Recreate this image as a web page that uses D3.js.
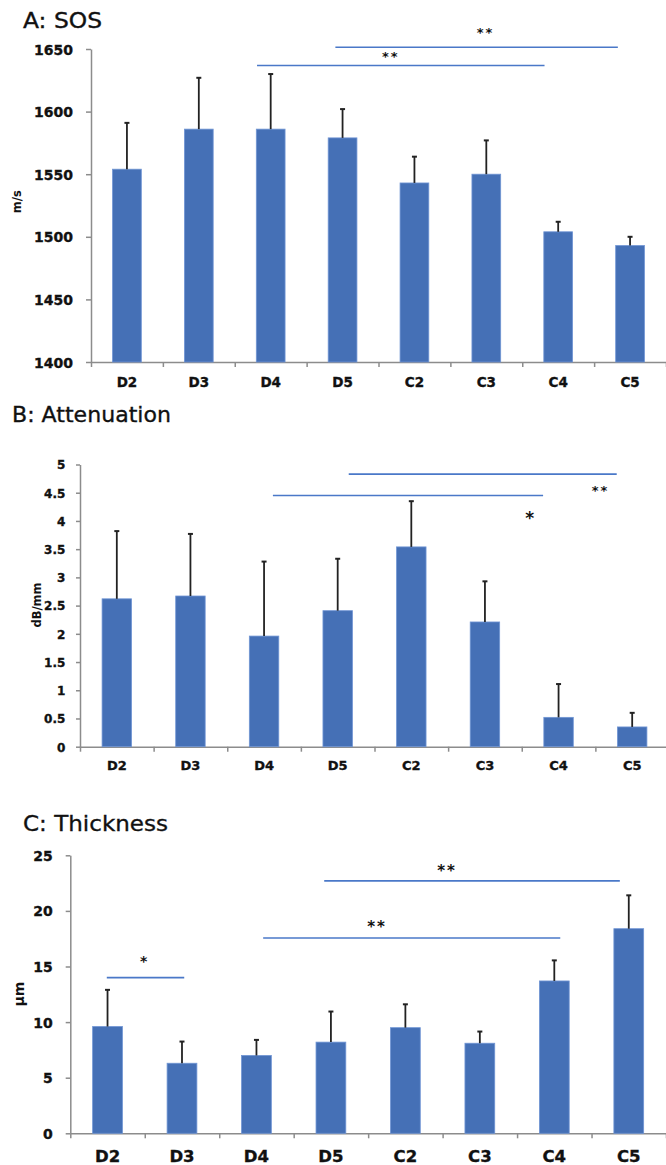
<!DOCTYPE html>
<html>
<head>
<meta charset="utf-8">
<script src="https://cdn.jsdelivr.net/npm/d3@7"></script>
<style>
    body { margin: 0; background: #fff; }
    text { font-family: "DejaVu Sans", sans-serif; }
</style>
</head>
<body>
<div id="chart"></div>
<script>
var categories = ["D2", "D3", "D4", "D5", "C2", "C3", "C4", "C5"];

// A: SOS (m/s)
var sosMean = [1554, 1586, 1586, 1579, 1543, 1550, 1504, 1493];
var sosErr = [37, 41, 44, 23, 21, 27, 8, 7];
var sosTicks = [1400, 1450, 1500, 1550, 1600, 1650];
// significance bars, from/to/sx in category-index units, y/sy in data units
var sosSig = [
    {from: 2.31, to: 6.31, y: 1636.8, star: "**", sx: 4.17, sy: 1646},
    {from: 3.40, to: 7.33, y: 1651.4, star: "**", sx: 5.49, sy: 1665}
];

// B: Attenuation (dB/mm)
var attMean = [2.62, 2.67, 1.96, 2.41, 3.54, 2.21, 0.52, 0.35];
var attErr = [1.20, 1.10, 1.32, 0.92, 0.81, 0.72, 0.59, 0.25];
var attTicks = [0, 0.5, 1, 1.5, 2, 2.5, 3, 3.5, 4, 4.5, 5];
var attSig = [
    {from: 2.62, to: 6.29, y: 4.45, star: "*", sx: 6.12, sy: 4.12},
    {from: 3.65, to: 7.29, y: 4.83, star: "**", sx: 7.07, sy: 4.58}
];

// C: Thickness (µm)
var thkMean = [9.6, 6.3, 7.0, 8.2, 9.5, 8.1, 13.7, 18.4];
var thkErr = [3.3, 1.95, 1.4, 2.75, 2.1, 1.05, 1.85, 3.0];
var thkTicks = [0, 5, 10, 15, 20, 25];
var thkSig = [
    {from: 0.49, to: 1.53, y: 14.0, star: "*", sx: 1.0, sy: 15.7},
    {from: 2.59, to: 6.58, y: 17.56, star: "**", sx: 4.12, sy: 18.8},
    {from: 3.41, to: 7.38, y: 22.7, star: "**", sx: 5.06, sy: 23.9}
];

var barColor = "#4570b6",
    sigColor = "#4a78c8",
    axisColor = "#8c8c8c";

var svg = d3.select("#chart")
    .append("svg")
    .attr("width", 666)
    .attr("height", 1165);

svg.append("rect")
    .attr("width", 666)
    .attr("height", 1165)
    .attr("fill", "#fff");

function drawPanel(p) {
    var g = svg.append("g");
    var x = d3.scaleBand()
        .domain(categories)
        .range([p.left, p.right]);
    var xi = d3.scaleLinear()
        .domain([0, categories.length])
        .range([p.left, p.right]);
    var y = d3.scaleLinear()
        .domain(p.domain)
        .range([p.bottom, p.top]);

    // title
    g.append("text")
        .attr("x", p.titleX)
        .attr("y", p.titleY)
        .attr("textLength", p.titleLen)
        .attr("lengthAdjust", "spacingAndGlyphs")
        .style("font-size", p.titleSize + "px")
        .style("fill", "#111")
        .style("stroke", "#111")
        .style("stroke-width", 0.35)
        .text(p.title);

    // y axis
    var ya = g.append("g")
        .attr("transform", "translate(" + p.left + ",0)")
        .call(d3.axisLeft(y)
            .tickValues(p.ticks)
            .tickSize(p.tickLen)
            .tickSizeOuter(0)
            .tickPadding(p.yPad)
            .tickFormat(function(d) { return String(d); }));
    ya.selectAll("text")
        .attr("dy", "0.36em")
        .style("font-size", p.tickFont + "px")
        .style("font-weight", "bold")
        .style("fill", "#111")
        .style("stroke", "#111")
        .style("stroke-width", 0.35);

    // x axis: boundary ticks + category labels
    g.append("g")
        .attr("transform", "translate(0," + p.bottom + ")")
        .call(d3.axisBottom(xi)
            .tickValues(d3.range(categories.length + 1))
            .tickSize(5)
            .tickSizeOuter(0)
            .tickFormat(""));
    var xl = g.append("g")
        .attr("transform", "translate(0," + p.bottom + ")")
        .call(d3.axisBottom(x).tickSize(0).tickPadding(p.xPad));
    xl.select(".domain").remove();
    xl.selectAll("text")
        .style("font-size", p.xFont + "px")
        .style("font-weight", "bold")
        .style("fill", "#111")
        .style("stroke", "#111")
        .style("stroke-width", 0.35);

    g.selectAll(".domain, .tick line")
        .attr("stroke", axisColor)
        .attr("stroke-width", 1.5);

    // y label
    g.append("text")
        .attr("transform", "translate(" + p.ylabX + "," + p.ylabY + ") rotate(-90)")
        .attr("text-anchor", "middle")
        .attr("dy", "0.35em")
        .style("font-size", p.ylabSize + "px")
        .style("font-weight", "bold")
        .style("fill", "#111")
        .text(p.ylab);

    // bars
    var bw = x.bandwidth() * 0.4;
    g.selectAll(".bar")
        .data(p.mean)
        .enter()
        .append("rect")
        .attr("x", function(d, i) { return x(categories[i]) + (x.bandwidth() - bw) / 2; })
        .attr("y", function(d) { return y(d); })
        .attr("width", bw)
        .attr("height", function(d) { return p.bottom - y(d); })
        .attr("fill", barColor)
        .attr("stroke", "#7095d4")
        .attr("stroke-width", 0.8);

    // error bars (upper only)
    var eb = g.selectAll(".err")
        .data(p.mean)
        .enter()
        .append("g");
    eb.append("line")
        .attr("x1", function(d, i) { return x(categories[i]) + x.bandwidth() / 2; })
        .attr("x2", function(d, i) { return x(categories[i]) + x.bandwidth() / 2; })
        .attr("y1", function(d) { return y(d); })
        .attr("y2", function(d, i) { return y(d + p.err[i]); })
        .attr("stroke", "#222")
        .attr("stroke-width", 1.8);
    eb.append("line")
        .attr("x1", function(d, i) { return x(categories[i]) + x.bandwidth() / 2 - 2.5; })
        .attr("x2", function(d, i) { return x(categories[i]) + x.bandwidth() / 2 + 2.5; })
        .attr("y1", function(d, i) { return y(d + p.err[i]); })
        .attr("y2", function(d, i) { return y(d + p.err[i]); })
        .attr("stroke", "#222")
        .attr("stroke-width", 2);

    // significance lines
    g.selectAll(".sig")
        .data(p.sig)
        .enter()
        .append("line")
        .attr("x1", function(d) { return xi(d.from); })
        .attr("x2", function(d) { return xi(d.to); })
        .attr("y1", function(d) { return y(d.y); })
        .attr("y2", function(d) { return y(d.y); })
        .attr("stroke", sigColor)
        .attr("stroke-width", 1.6);
    g.selectAll(".star")
        .data(p.sig)
        .enter()
        .append("text")
        .attr("x", function(d) { return xi(d.sx); })
        .attr("y", function(d) { return y(d.sy) + 0.55 * (d.star == "*" ? p.starBig : p.starSize); })
        .attr("text-anchor", "middle")
        .style("font-size", function(d) { return (d.star == "*" ? p.starBig : p.starSize) + "px"; })
        .style("font-weight", "bold")
        .style("letter-spacing", "2px")
        .style("fill", "#111")
        .text(function(d) { return d.star; });
}

drawPanel({
    title: "A: SOS", titleX: 23, titleY: 28, titleSize: 21, titleLen: 79,
    left: 91, right: 666, bottom: 362, top: 49, domain: [1400, 1650],
    ticks: sosTicks, tickLen: 5, yPad: 13, tickFont: 14,
    xFont: 13.5, xPad: 15,
    ylab: "m/s", ylabX: 17, ylabY: 201.7, ylabSize: 11.5,
    mean: sosMean, err: sosErr, sig: sosSig, starSize: 13, starBig: 13
});

drawPanel({
    title: "B: Attenuation", titleX: 12, titleY: 421.7, titleSize: 21.5, titleLen: 159,
    left: 80, right: 669, bottom: 746.7, top: 464.5, domain: [0, 5],
    ticks: attTicks, tickLen: 4, yPad: 10.7, tickFont: 12,
    xFont: 13, xPad: 13.6,
    ylab: "dB/mm", ylabX: 37, ylabY: 605, ylabSize: 11.5,
    mean: attMean, err: attErr, sig: attSig, starSize: 13, starBig: 17
});

drawPanel({
    title: "C: Thickness", titleX: 23, titleY: 830.7, titleSize: 22, titleLen: 145,
    left: 70.3, right: 666, bottom: 1133.3, top: 855.3, domain: [0, 25],
    ticks: thkTicks, tickLen: 4.6, yPad: 13, tickFont: 14,
    xFont: 16.5, xPad: 17.4,
    ylab: "µm", ylabX: 19.5, ylabY: 994, ylabSize: 14,
    mean: thkMean, err: thkErr, sig: thkSig, starSize: 15, starBig: 14
});
</script>
</body>
</html>
